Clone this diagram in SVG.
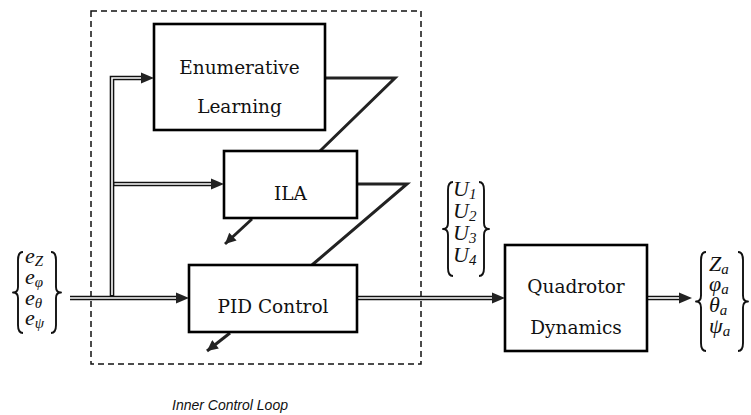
<svg xmlns="http://www.w3.org/2000/svg" width="751" height="415" viewBox="0 0 751 415">
<style>
.box{fill:#fff;stroke:#000;stroke-width:2.6}
.lbl{font-family:"DejaVu Serif","Liberation Serif",serif;font-size:18.5px;fill:#111;text-anchor:middle}
.m{font-family:"Liberation Serif",serif;font-style:italic;font-size:22px;fill:#111}
.s{font-size:15px}
.brace{fill:none;stroke:#111;stroke-width:1.9;stroke-linejoin:round}
.dbl{fill:none;stroke:#111;stroke-width:4.6}
.dblw{fill:none;stroke:#fff;stroke-width:1.6}
.fb{fill:none;stroke:#222;stroke-width:3;stroke-linejoin:miter}
.ah{fill:#222}
.cap{font-family:"Liberation Sans",sans-serif;font-style:italic;font-size:14px;fill:#111}
</style>
<defs>
<marker id="tri" viewBox="0 0 10 10" refX="10" refY="5" markerWidth="4" markerHeight="3.6" markerUnits="strokeWidth" orient="auto">
<path d="M0,0 L10,5 L0,10 z" fill="#222"/>
</marker>
</defs>
<rect id="inner-loop" x="91" y="11" width="330" height="353" fill="none" stroke="#111" stroke-width="1.5" stroke-dasharray="6,4"/>
<g id="connectors">
<path class="dbl" d="M70,298 H177"/>
<path class="dblw" d="M70,298 H176"/>
<polygon class="ah" points="189,298 176,292.5 176,303.5"/>
<path class="dbl" d="M112,296 V78 H142"/>
<path class="dblw" d="M112,295 V78 H141"/>
<polygon class="ah" points="154,78 141,72.5 141,83.5"/>
<path class="dbl" d="M114,184 H212"/>
<path class="dblw" d="M114.5,184 H211"/>
<polygon class="ah" points="224,184 211,178.5 211,189.5"/>
<path class="dbl" d="M357,298 H493"/>
<path class="dblw" d="M357,298 H492"/>
<polygon class="ah" points="505,298 492,292.5 492,303.5"/>
<path class="dbl" d="M647,298 H680"/>
<path class="dblw" d="M647,298 H679"/>
<polygon class="ah" points="692,298 679,292.5 679,303.5"/>
<path class="fb" d="M325,78 H395 L320,151"/>
<path class="fb" d="M357,184 H407 L312,265"/>
<line x1="252" y1="219" x2="225" y2="244" stroke="#222" stroke-width="3" marker-end="url(#tri)"/>
<line x1="230" y1="333" x2="207" y2="351" stroke="#222" stroke-width="3" marker-end="url(#tri)"/>
</g>
<g id="enumerative-learning">
<rect class="box" x="154" y="24" width="171" height="106"/>
<text class="lbl" x="239.5" y="74">Enumerative</text>
<text class="lbl" x="239.5" y="113">Learning</text>
</g>
<g id="ila">
<rect class="box" x="224" y="151" width="133" height="67"/>
<text class="lbl" x="290.5" y="200">ILA</text>
</g>
<g id="pid-control">
<rect class="box" x="189" y="265" width="168" height="67"/>
<text class="lbl" x="273" y="313">PID Control</text>
</g>
<g id="quadrotor-dynamics">
<rect class="box" x="505" y="245" width="142" height="106"/>
<text class="lbl" x="576" y="293">Quadrotor</text>
<text class="lbl" x="576" y="334">Dynamics</text>
</g>
<g id="error-vector">
<path class="brace" d="M23,252 Q18,252 18,260 L18,287 Q18,292.5 13,292.5 Q18,292.5 18,298 L18,325 Q18,333 23,333"/>
<path class="brace" d="M51,252 Q56,252 56,260 L56,287 Q56,292.5 61,292.5 Q56,292.5 56,298 L56,325 Q56,333 51,333"/>
<text class="m" x="25" y="263">e<tspan class="s" dy="3">Z</tspan></text>
<text class="m" x="25" y="284">e<tspan class="s" dy="3">φ</tspan></text>
<text class="m" x="25" y="305">e<tspan class="s" dy="3">θ</tspan></text>
<text class="m" x="25" y="325">e<tspan class="s" dy="3">ψ</tspan></text>
</g>
<g id="control-vector">
<path class="brace" d="M453,182 Q448,182 448,190 L448,223 Q448,229 443,229 Q448,229 448,235 L448,268 Q448,276 453,276"/>
<path class="brace" d="M479,182 Q484,182 484,190 L484,223 Q484,229 489,229 Q484,229 484,235 L484,268 Q484,276 479,276"/>
<text class="m" x="453" y="196">U<tspan class="s" dy="3">1</tspan></text>
<text class="m" x="453" y="218">U<tspan class="s" dy="3">2</tspan></text>
<text class="m" x="453" y="240">U<tspan class="s" dy="3">3</tspan></text>
<text class="m" x="453" y="262">U<tspan class="s" dy="3">4</tspan></text>
</g>
<g id="state-vector">
<path class="brace" d="M706,252 Q701,252 701,260 L701,295.5 Q701,301.5 696,301.5 Q701,301.5 701,307.5 L701,343 Q701,351 706,351"/>
<path class="brace" d="M738,252 Q743,252 743,260 L743,295.5 Q743,301.5 748,301.5 Q743,301.5 743,307.5 L743,343 Q743,351 738,351"/>
<text class="m" x="709" y="271">Z<tspan class="s" dy="3">a</tspan></text>
<text class="m" x="709" y="291">φ<tspan class="s" dy="3">a</tspan></text>
<text class="m" x="709" y="312">θ<tspan class="s" dy="3">a</tspan></text>
<text class="m" x="709" y="333">ψ<tspan class="s" dy="3">a</tspan></text>
</g>
<text class="cap" x="172" y="410">Inner Control Loop</text>
</svg>
